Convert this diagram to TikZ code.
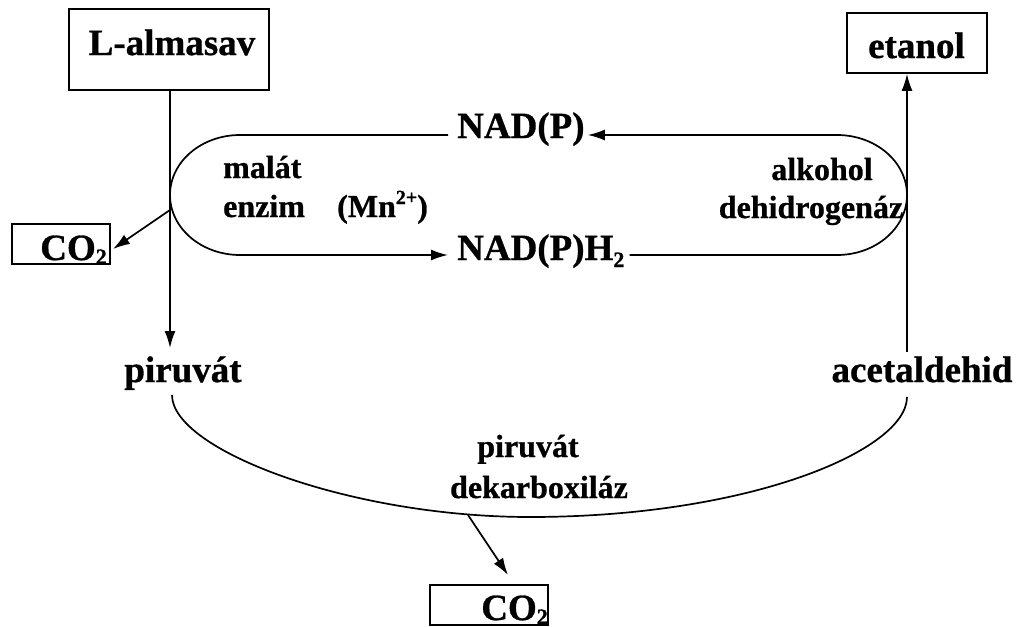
\documentclass[tikz,border=0pt]{standalone}
\usepackage{fontspec}
\setmainfont{Liberation Serif}[BoldFeatures={FakeBold=0.8}]
\usetikzlibrary{arrows.meta}
\newcommand{\lowsub}[2]{\raisebox{-#1}{\fontsize{22}{22}\selectfont #2}}
\begin{document}
\begin{tikzpicture}[x=1pt,y=1pt,
  big/.style={font=\fontsize{37}{40}\selectfont\bfseries, inner sep=0pt},
  small/.style={font=\fontsize{32}{36}\selectfont\bfseries, inner sep=0pt},
  box/.style={draw, line width=1.7pt, inner sep=0pt},
  ln/.style={line width=1.7pt},
  arr/.style={ln, -{Latex[length=17pt,width=11pt]}}]
\path[use as bounding box, fill=white] (0,0) rectangle (1021,-627);

% boxes and texts
\node[box, minimum width=200pt, minimum height=81pt] (almbox) at (169,-49.5) {};
\node[big, anchor=base] (alm) at (172,-55) {L-almasav};
\node[box, minimum width=140pt, minimum height=60pt] (etbox) at (917,-43) {};
\node[big, anchor=base] (et) at (916.5,-58) {etanol};
\node[box, minimum width=98pt, minimum height=40pt] (co2abox) at (61,-244) {};
\node[big, anchor=base east] (co2a) at (107,-260) {CO\lowsub{4pt}{2}};
\node[box, minimum width=118pt, minimum height=40pt] (co2bbox) at (489,-605) {};
\node[big, anchor=base east] (co2b) at (548,-620) {CO\lowsub{4pt}{2}};
\node[big, anchor=base] (piru) at (183,-382) {piruvát};
\node[big, anchor=base] (acet) at (922,-382) {acetaldehid};
\node[big, anchor=base west] (nadp) at (457,-138) {NAD(P)};
\node[big, anchor=base west] (nadph) at (457,-260) {NAD(P)H\lowsub{7pt}{2}};
\node[small, anchor=base west] (mal1) at (223,-178) {malát};
\node[small, anchor=base west] (mal2) at (223,-217) {enzim};
\node[small, anchor=base west] (mn) at (337,-217) {(Mn\raisebox{13pt}{\fontsize{20}{20}\selectfont 2+})};
\node[small, anchor=base] (alk1) at (822,-180) {alkohol};
\node[small, anchor=base] (alk2) at (811,-218) {dehidrogenáz};
\node[small, anchor=base] (pdc1) at (528,-457) {piruvát};
\node[small, anchor=base] (pdc2) at (539,-498) {dekarboxiláz};

% connector ends
\coordinate (piruTop) at (170,-348);
\coordinate (branch) at (170,-210);
\coordinate (co2aTip) at (113,-249);
\coordinate (piruBot) at (172,-395);
\coordinate (acetBot) at (907,-397);
\coordinate (acetTop) at (907,-352);
\coordinate (split) at (468,-515);
\coordinate (co2bTip) at (508,-575);

% connectors
\draw[arr] (almbox.south -| piruTop) -- (piruTop);
\draw[arr] (branch) -- (co2aTip);
\draw[arr] ([shift={(-9pt,3pt)}]nadp.base west) -- (240,-135)
  arc[start angle=90, end angle=270, x radius=70pt, y radius=60pt]
  -- ([shift={(-9pt,5pt)}]nadph.base west);
\draw[arr] ([shift={(5pt,5pt)}]nadph.base east) -- (837,-255)
  arc[start angle=-90, end angle=90, x radius=70pt, y radius=60pt]
  -- ([shift={(3pt,3pt)}]nadp.base east);
\draw[ln] (piruBot) .. controls (172,-450) and (350,-517) .. (530,-517)
  .. controls (750,-517) and (907,-450) .. (acetBot);
\draw[arr] (split) -- (co2bTip);
\draw[arr] (acetTop) -- (etbox.south -| acetTop);
\end{tikzpicture}
\end{document}
